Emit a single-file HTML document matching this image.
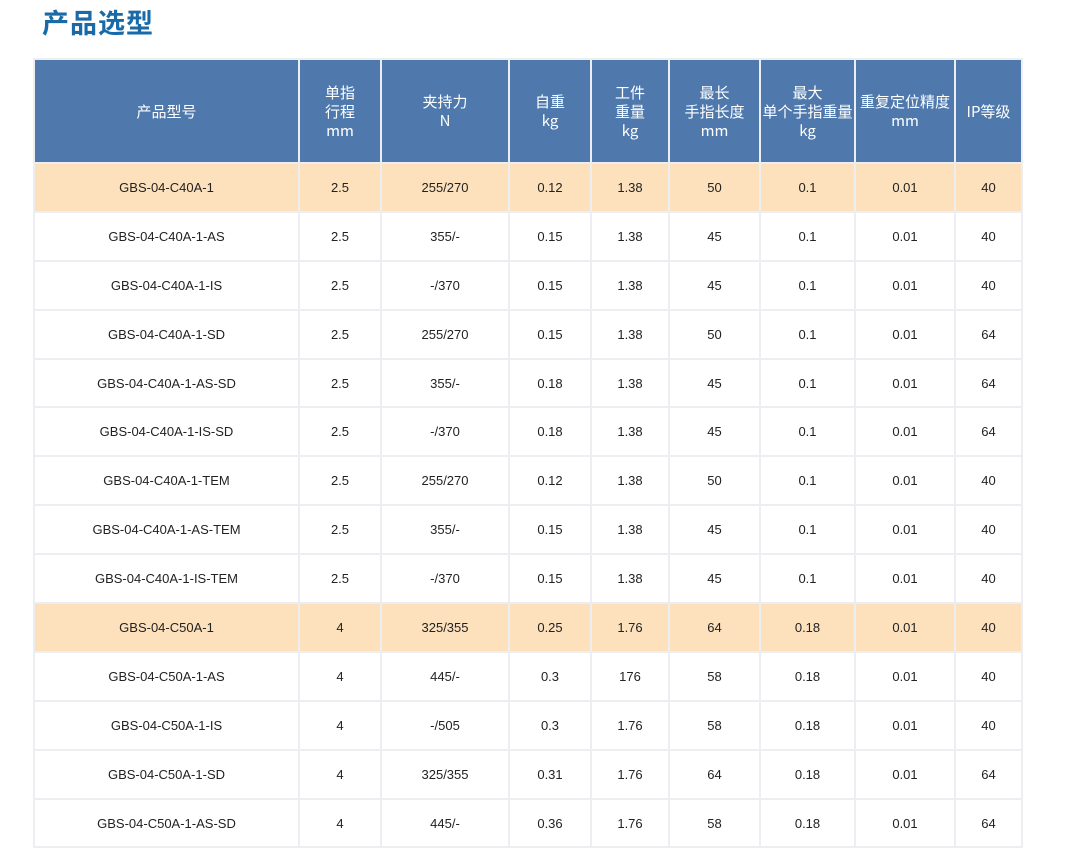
<!DOCTYPE html>
<html><head><meta charset="utf-8">
<style>
body{margin:0;width:1084px;height:847px;overflow:hidden;background:#fff;font-family:"Liberation Sans","Noto Sans CJK SC",sans-serif;position:relative}
#title{position:absolute;left:42px;top:2px;font-size:27px;font-weight:bold;color:#1a6aa8;letter-spacing:1px;font-family:"Noto Sans CJK SC",sans-serif}
#tbl{position:absolute;left:33px;top:58px;border-collapse:separate;border-spacing:2px;background:#eceef1;table-layout:fixed}
#tbl th{background:#4f79ad;color:#fff;font-weight:normal;font-size:15px;line-height:19px;height:102px;padding:0;text-align:center;font-family:"Noto Sans CJK SC",sans-serif;white-space:nowrap}
#tbl td{background:#fff;color:#222;font-size:13px;height:46.9px;padding:0;text-align:center}
#tbl tr.hl td{background:#fde1bd}
</style></head><body>
<div id="title">产品选型</div>
<table id="tbl">
<colgroup><col style="width:263px"><col style="width:80px"><col style="width:126px"><col style="width:80px"><col style="width:76px"><col style="width:89px"><col style="width:93px"><col style="width:98px"><col style="width:65px"></colgroup>
<thead><tr>
<th>产品型号</th>
<th>单指<br>行程<br>mm</th>
<th>夹持力<br>N</th>
<th>自重<br>kg</th>
<th>工件<br>重量<br>kg</th>
<th>最长<br>手指长度<br>mm</th>
<th>最大<br>单个手指重量<br>kg</th>
<th>重复定位精度<br>mm</th>
<th>IP等级</th>
</tr></thead>
<tbody id="body"></tbody>
</table>
<script>
const models=["GBS-04-C40A-1","GBS-04-C40A-1-AS","GBS-04-C40A-1-IS","GBS-04-C40A-1-SD","GBS-04-C40A-1-AS-SD","GBS-04-C40A-1-IS-SD","GBS-04-C40A-1-TEM","GBS-04-C40A-1-AS-TEM","GBS-04-C40A-1-IS-TEM","GBS-04-C50A-1","GBS-04-C50A-1-AS","GBS-04-C50A-1-IS","GBS-04-C50A-1-SD","GBS-04-C50A-1-AS-SD"];
const strokes=["2.5","2.5","2.5","2.5","2.5","2.5","2.5","2.5","2.5","4","4","4","4","4"];
const forces=["255/270","355/-","-/370","255/270","355/-","-/370","255/270","355/-","-/370","325/355","445/-","-/505","325/355","445/-"];
const weights=["0.12","0.15","0.15","0.15","0.18","0.18","0.12","0.15","0.15","0.25","0.3","0.3","0.31","0.36"];
const workpieces=["1.38","1.38","1.38","1.38","1.38","1.38","1.38","1.38","1.38","1.76","176","1.76","1.76","1.76"];
const fingerLengths=["50","45","45","50","45","45","50","45","45","64","58","58","64","58"];
const fingerWeights=["0.1","0.1","0.1","0.1","0.1","0.1","0.1","0.1","0.1","0.18","0.18","0.18","0.18","0.18"];
const repeatability=["0.01","0.01","0.01","0.01","0.01","0.01","0.01","0.01","0.01","0.01","0.01","0.01","0.01","0.01"];
const ipRatings=["40","40","40","64","64","64","40","40","40","40","40","40","64","64"];
const highlighted=[0,9];
const colNames=["model","stroke","force","weight","workpiece","finger-length","finger-weight","repeatability","ip"];
const cols=[models,strokes,forces,weights,workpieces,fingerLengths,fingerWeights,repeatability,ipRatings];
const body=document.getElementById('body');
models.forEach((m,i)=>{
  const tr=document.createElement('tr');
  
  
  if(highlighted.includes(i))tr.className='hl';
  cols.forEach((c,j)=>{
    const td=document.createElement('td');
    
    
    td.textContent=c[i];
    tr.appendChild(td);
  });
  body.appendChild(tr);
});
</script>
</body></html>
